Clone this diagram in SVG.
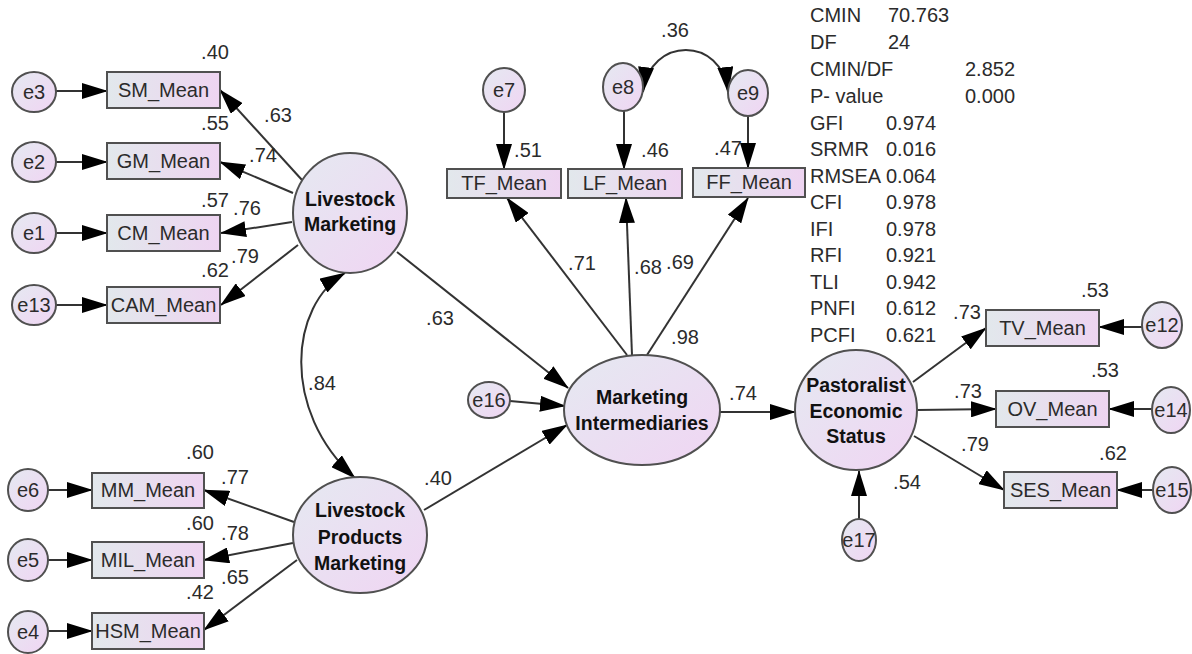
<svg xmlns="http://www.w3.org/2000/svg" width="1192" height="654" viewBox="0 0 1192 654">
<defs>
<linearGradient id="gn" x1="0" y1="0" x2="1" y2="1">
<stop offset="0" stop-color="#e5e9f1"/><stop offset="1" stop-color="#f0d5f3"/>
</linearGradient>
<linearGradient id="gb" x1="0" y1="0" x2="1" y2="0">
<stop offset="0" stop-color="#e2e8ec"/><stop offset="1" stop-color="#eed4f1"/>
</linearGradient>
<marker id="ah" markerWidth="27" markerHeight="16" refX="25" refY="8" orient="auto-start-reverse" markerUnits="userSpaceOnUse">
<path d="M0,0 L26,8 L0,16 z" fill="#000"/>
</marker>
<style>
.n{fill:url(#gn);stroke:#505050;stroke-width:2}
.b{fill:url(#gb);stroke:#505050;stroke-width:2}
text{font-family:"Liberation Sans",Arial,sans-serif;font-size:20px;fill:#2b2b2b}
.c{text-anchor:middle}
.l{font-weight:bold;font-size:19.5px;fill:#111;text-anchor:middle}
.a{fill:none;stroke:#333;stroke-width:2;marker-end:url(#ah)}
.cv{fill:none;stroke:#333;stroke-width:2;marker-start:url(#ah);marker-end:url(#ah)}
</style>
</defs>
<rect width="1192" height="654" fill="#fff"/>

<g id="connectors">
<line class="a" x1="56" y1="91" x2="107" y2="91"/>
<line class="a" x1="56" y1="162" x2="107" y2="162"/>
<line class="a" x1="56" y1="233" x2="107" y2="233"/>
<line class="a" x1="56" y1="305" x2="107" y2="305"/>
<line class="a" x1="302" y1="180" x2="220" y2="90"/>
<line class="a" x1="293" y1="193" x2="220" y2="162"/>
<line class="a" x1="292" y1="222" x2="221" y2="233"/>
<line class="a" x1="298" y1="245" x2="221" y2="305"/>
<line class="a" x1="48" y1="490" x2="92" y2="490"/>
<line class="a" x1="48" y1="560" x2="92" y2="560"/>
<line class="a" x1="48" y1="631" x2="92" y2="631"/>
<line class="a" x1="294" y1="522" x2="204" y2="490"/>
<line class="a" x1="293" y1="543" x2="204" y2="560"/>
<line class="a" x1="297" y1="560" x2="204" y2="630"/>
<path class="cv" d="M345,273 C290,305 280,410 355,478"/>
<line class="a" x1="504" y1="112" x2="504" y2="169"/>
<line class="a" x1="624" y1="111" x2="624" y2="169"/>
<line class="a" x1="748" y1="116" x2="748" y2="168"/>
<path class="cv" d="M643,92 C650,36 722,36 728,92"/>
<line class="a" x1="627" y1="355" x2="507" y2="198"/>
<line class="a" x1="632" y1="355" x2="626" y2="198"/>
<line class="a" x1="647" y1="355" x2="748" y2="198"/>
<line class="a" x1="397" y1="252" x2="568" y2="388"/>
<line class="a" x1="424" y1="510" x2="567" y2="425"/>
<line class="a" x1="510" y1="401" x2="565" y2="406"/>
<line class="a" x1="720" y1="412" x2="795" y2="412"/>
<line class="a" x1="859" y1="519" x2="859" y2="471"/>
<line class="a" x1="913" y1="382" x2="986" y2="328"/>
<line class="a" x1="917" y1="410" x2="996" y2="409"/>
<line class="a" x1="914" y1="436" x2="1004" y2="490"/>
<line class="a" x1="1142" y1="327" x2="1099" y2="327"/>
<line class="a" x1="1152" y1="409" x2="1109" y2="409"/>
<line class="a" x1="1154" y1="490" x2="1117" y2="490"/>
</g>

<g id="e3"><ellipse class="n" cx="34" cy="92" rx="22" ry="20"/><text class="c" x="34" y="99">e3</text></g>
<g id="e2"><ellipse class="n" cx="34" cy="162" rx="22" ry="20"/><text class="c" x="34" y="169">e2</text></g>
<g id="e1"><ellipse class="n" cx="34" cy="233" rx="22" ry="20"/><text class="c" x="34" y="240">e1</text></g>
<g id="e13"><ellipse class="n" cx="34" cy="305" rx="22" ry="20"/><text class="c" x="34" y="312">e13</text></g>
<g id="SM_Mean"><rect class="b" x="107" y="72" width="113" height="36"/><text class="c" x="163.5" y="97">SM_Mean</text></g>
<g id="GM_Mean"><rect class="b" x="107" y="143" width="113" height="36"/><text class="c" x="163.5" y="168">GM_Mean</text></g>
<g id="CM_Mean"><rect class="b" x="107" y="215" width="113" height="36"/><text class="c" x="163.5" y="240">CM_Mean</text></g>
<g id="CAM_Mean"><rect class="b" x="107" y="287" width="113" height="36"/><text class="c" x="163.5" y="312">CAM_Mean</text></g>
<g id="LM"><ellipse class="n" cx="350" cy="213" rx="57" ry="60"/><text class="l" x="350" y="206">Livestock</text><text class="l" x="350" y="231">Marketing</text></g>

<g id="e6"><ellipse class="n" cx="28" cy="490" rx="20" ry="21"/><text class="c" x="28" y="497">e6</text></g>
<g id="e5"><ellipse class="n" cx="28" cy="560" rx="20" ry="21"/><text class="c" x="28" y="567">e5</text></g>
<g id="e4"><ellipse class="n" cx="28" cy="632" rx="20" ry="21"/><text class="c" x="28" y="639">e4</text></g>
<g id="MM_Mean"><rect class="b" x="92" y="473" width="112" height="35"/><text class="c" x="148" y="497">MM_Mean</text></g>
<g id="MIL_Mean"><rect class="b" x="92" y="542" width="112" height="36"/><text class="c" x="148" y="567">MIL_Mean</text></g>
<g id="HSM_Mean"><rect class="b" x="92" y="613" width="112" height="36"/><text class="c" x="148" y="638">HSM_Mean</text></g>
<g id="LPM"><ellipse class="n" cx="360" cy="535" rx="67" ry="58"/><text class="l" x="360" y="517">Livestock</text><text class="l" x="360" y="544">Products</text><text class="l" x="360" y="570">Marketing</text></g>

<g id="e7"><ellipse class="n" cx="504" cy="90" rx="21" ry="22"/><text class="c" x="504" y="97">e7</text></g>
<g id="e8"><ellipse class="n" cx="623" cy="87" rx="20" ry="24"/><text class="c" x="623" y="94">e8</text></g>
<g id="e9"><ellipse class="n" cx="748" cy="93" rx="20" ry="23"/><text class="c" x="748" y="100">e9</text></g>
<g id="TF_Mean"><rect class="b" x="447" y="169" width="114" height="29"/><text class="c" x="504" y="190">TF_Mean</text></g>
<g id="LF_Mean"><rect class="b" x="568" y="169" width="114" height="29"/><text class="c" x="625" y="190">LF_Mean</text></g>
<g id="FF_Mean"><rect class="b" x="693" y="168" width="112" height="29"/><text class="c" x="749" y="189">FF_Mean</text></g>
<g id="e16"><ellipse class="n" cx="489" cy="400" rx="21" ry="18"/><text class="c" x="489" y="407">e16</text></g>
<g id="MI"><ellipse class="n" cx="642" cy="410" rx="78" ry="55"/><text class="l" x="642" y="404">Marketing</text><text class="l" x="642" y="430">Intermediaries</text></g>

<g id="PES"><ellipse class="n" cx="856" cy="410" rx="61" ry="60"/><text class="l" x="856" y="392">Pastoralist</text><text class="l" x="856" y="418">Economic</text><text class="l" x="856" y="443">Status</text></g>
<g id="e17"><ellipse class="n" cx="859" cy="540" rx="17" ry="21"/><text class="c" x="859" y="547">e17</text></g>
<g id="TV_Mean"><rect class="b" x="986" y="310" width="113" height="36"/><text class="c" x="1042.5" y="335">TV_Mean</text></g>
<g id="OV_Mean"><rect class="b" x="996" y="391" width="113" height="36"/><text class="c" x="1052.5" y="416">OV_Mean</text></g>
<g id="SES_Mean"><rect class="b" x="1004" y="472" width="113" height="36"/><text class="c" x="1060.5" y="497">SES_Mean</text></g>
<g id="e12"><ellipse class="n" cx="1162" cy="325" rx="20" ry="23"/><text class="c" x="1162" y="332">e12</text></g>
<g id="e14"><ellipse class="n" cx="1171" cy="410" rx="19" ry="23"/><text class="c" x="1171" y="417">e14</text></g>
<g id="e15"><ellipse class="n" cx="1172" cy="490" rx="19" ry="23"/><text class="c" x="1172" y="497">e15</text></g>

<g id="coefficients" class="c">
<text class="c" x="215" y="59">.40</text>
<text class="c" x="278" y="122">.63</text>
<text class="c" x="215" y="130">.55</text>
<text class="c" x="263" y="162">.74</text>
<text class="c" x="215" y="207">.57</text>
<text class="c" x="247" y="215">.76</text>
<text class="c" x="215" y="277">.62</text>
<text class="c" x="245" y="263">.79</text>
<text class="c" x="200" y="459">.60</text>
<text class="c" x="235" y="484">.77</text>
<text class="c" x="200" y="530">.60</text>
<text class="c" x="235" y="540">.78</text>
<text class="c" x="235" y="584">.65</text>
<text class="c" x="200" y="599">.42</text>
<text class="c" x="322" y="390">.84</text>
<text class="c" x="528" y="157">.51</text>
<text class="c" x="655" y="157">.46</text>
<text class="c" x="728" y="155">.47</text>
<text class="c" x="675" y="37">.36</text>
<text class="c" x="582" y="270">.71</text>
<text class="c" x="648" y="274">.68</text>
<text class="c" x="680" y="269">.69</text>
<text class="c" x="685" y="344">.98</text>
<text class="c" x="440" y="325">.63</text>
<text class="c" x="438" y="485">.40</text>
<text class="c" x="743" y="400">.74</text>
<text class="c" x="907" y="489">.54</text>
<text class="c" x="1095" y="297">.53</text>
<text class="c" x="967" y="319">.73</text>
<text class="c" x="1105" y="377">.53</text>
<text class="c" x="968" y="398">.73</text>
<text class="c" x="975" y="451">.79</text>
<text class="c" x="1113" y="460">.62</text>
</g>

<g id="fit-indices">
<text x="810" y="22">CMIN</text><text x="888" y="22">70.763</text>
<text x="810" y="49">DF</text><text x="888" y="49">24</text>
<text x="810" y="76">CMIN/DF</text><text x="965" y="76">2.852</text>
<text x="810" y="103">P- value</text><text x="965" y="103">0.000</text>
<text x="810" y="130">GFI</text><text x="886" y="130">0.974</text>
<text x="810" y="156">SRMR</text><text x="886" y="156">0.016</text>
<text x="810" y="183">RMSEA</text><text x="886" y="183">0.064</text>
<text x="810" y="209">CFI</text><text x="886" y="209">0.978</text>
<text x="810" y="236">IFI</text><text x="886" y="236">0.978</text>
<text x="810" y="262">RFI</text><text x="886" y="262">0.921</text>
<text x="810" y="289">TLI</text><text x="886" y="289">0.942</text>
<text x="810" y="315">PNFI</text><text x="886" y="315">0.612</text>
<text x="810" y="342">PCFI</text><text x="886" y="342">0.621</text>
</g>
</svg>
